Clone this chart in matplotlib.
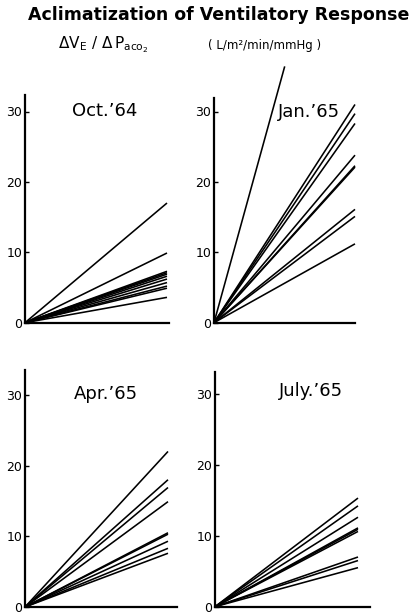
import matplotlib
matplotlib.use("Agg")
import matplotlib.pyplot as plt

plt.rcParams['font.family'] = ['DejaVu Sans']
plt.rcParams['mathtext.fontset'] = 'dejavusans'

# End value (at the right end of the run) of each ventilatory response line
oct64_ends = [17.0, 9.9, 7.3, 7.1, 6.9, 6.6, 6.2, 5.7, 5.2, 4.9, 3.6, 0.0]
jan65_ends = [31.0, 29.7, 28.3, 23.8, 22.3, 22.1, 16.1, 15.1, 11.2]
jan65_steep = (0.5, 36.3)          # short, very steep line (x end, y end)
apr65_ends = [22.0, 18.0, 16.9, 14.9, 10.5, 10.3, 9.3, 8.3, 7.6]
jul65_ends = [15.3, 14.2, 12.6, 11.1, 10.9, 10.6, 7.0, 6.5, 5.5]

panel_titles = ["Oct.\u201964", "Jan.\u201965", "Apr.\u201965", "July.\u201965"]
ytick_vals = [0, 10, 20, 30]
ytick_labels = ["0", "10", "20", "30"]

W, H = 414, 615
fig = plt.figure(figsize=(W / 100, H / 100), dpi=100)

# pixel boxes: left, right, bottom(y of zero), top ; x where lines end ; y-scale px per unit
panels = [
    dict(l=25, r=169, b=322.7, t=95, xend=167, ppu=7.04, ends=oct64_ends, title_xy=(105, 111)),
    dict(l=214, r=355, b=322.7, t=98, xend=355, ppu=7.04, ends=jan65_ends, title_xy=(309, 112)),
    dict(l=25, r=177, b=607, t=370, xend=168, ppu=7.07, ends=apr65_ends, title_xy=(106, 394)),
    dict(l=215, r=370, b=606.7, t=371.7, xend=358, ppu=7.1, ends=jul65_ends, title_xy=(311, 391)),
]

for i, p in enumerate(panels):
    ax = fig.add_axes([p['l'] / W, 1 - p['b'] / H, (p['r'] - p['l']) / W, (p['b'] - p['t']) / H])
    ymax = (p['b'] - p['t']) / p['ppu']
    xmax = (p['r'] - p['l']) / (p['xend'] - p['l'])
    ax.set_xlim(0, xmax)
    ax.set_ylim(0, ymax)
    for v in p['ends']:
        ax.plot([0, 1], [0, v], color='black', lw=1.15, solid_capstyle='butt', clip_on=False)
    if i == 1:
        ax.plot([0, jan65_steep[0]], [0, jan65_steep[1]], color='black', lw=1.15, clip_on=False)
    for s in ['top', 'right']:
        ax.spines[s].set_visible(False)
    for s in ['left', 'bottom']:
        ax.spines[s].set_linewidth(1.6)
    ax.set_xticks([])
    ax.set_yticks(ytick_vals)
    ax.set_yticklabels(ytick_labels)
    ax.tick_params(axis='y', direction='in', length=3, width=1.0, pad=2, labelsize=9)
    ax.set_facecolor('none')
    tx, ty = p['title_xy']
    fig.text(tx / W, 1 - ty / H, panel_titles[i], ha='center', va='center', fontsize=13)

fig.text(219 / W, 1 - 15 / H, "Aclimatization of Ventilatory Response",
         ha='center', va='center', fontsize=12.5, fontweight='bold')
fig.text(58 / W, 1 - 45 / H, r'$\Delta\mathrm{V}_{\mathrm{E}}\ /\ \Delta\,\mathrm{P}_{\mathrm{aco_2}}$',
         ha='left', va='center', fontsize=11)
fig.text(208 / W, 1 - 45 / H, "( L/m\u00b2/min/mmHg )", ha='left', va='center', fontsize=8.5)

fig.savefig("out.png", dpi=100)
